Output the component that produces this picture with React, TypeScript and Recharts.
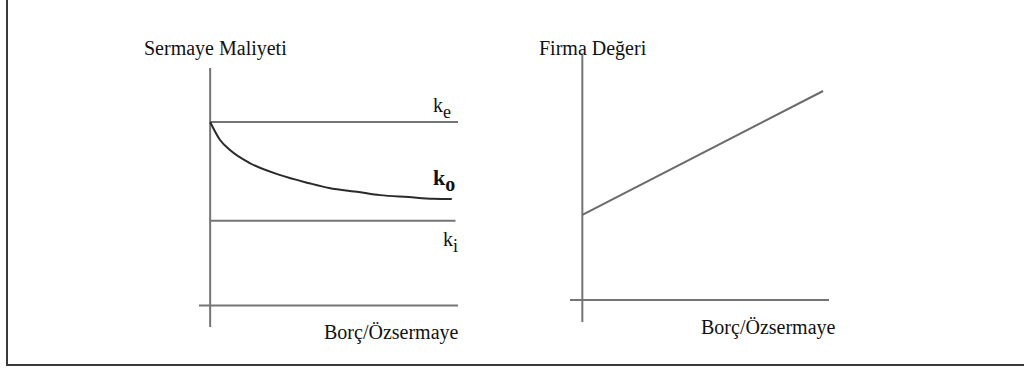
import { LineChart, Line, XAxis, YAxis, ReferenceLine } from 'recharts';

// Sermaye maliyeti panel (debt/equity on x)
const debtRatio = [0, 0.4, 0.8, 1.6, 2.8, 4.0, 4.8, 6.0, 6.85, 8.0, 9.0, 9.75];
const costOverall = [7.73, 6.97, 6.55, 6.0, 5.5, 5.15, 4.95, 4.78, 4.65, 4.57, 4.5, 4.49]; // k_o
const equityX = [0, 10];
const costEquity = [7.73, 7.73]; // k_e
const debtX = [0, 9.9];
const costDebt = [3.57, 3.57]; // k_i

// Firma değeri panel
const valueX = [0, 9.76];
const firmValue = [3.47, 8.53];

const axisLabels = ['Sermaye Maliyeti', 'Firma Değeri', 'Borç/Özsermaye'];

const SERIF = '"Liberation Serif", "Times New Roman", serif';
const AXIS = '#747474';

const costRows = (() => {
  const xs = Array.from(new Set([...debtRatio, ...equityX, ...debtX])).sort((a, b) => a - b);
  return xs.map((x) => {
    const row: Record<string, number | null> = { x };
    const io = debtRatio.indexOf(x);
    row.ko = io >= 0 ? costOverall[io] : null;
    const ie = equityX.indexOf(x);
    row.ke = ie >= 0 ? costEquity[ie] : null;
    const ii = debtX.indexOf(x);
    row.ki = ii >= 0 ? costDebt[ii] : null;
    return row;
  });
})();

const valueRows = valueX.map((x, i) => ({ x, v: firmValue[i] }));

const txt = (left: number, top: number, size = 20): React.CSSProperties => ({
  position: 'absolute',
  left,
  top,
  fontFamily: SERIF,
  fontSize: size,
  lineHeight: `${size}px`,
  color: '#111',
  whiteSpace: 'nowrap',
});

function KLabel({ left, top, sub, size = 20, bold }: { left: number; top: number; sub: string; size?: number; bold?: boolean }) {
  return (
    <div style={{ ...txt(left, top, size), fontWeight: bold ? 'bold' : 'normal' }}>
      k<span style={{ fontSize: size - 2, position: 'relative', top: 6 }}>{sub}</span>
    </div>
  );
}

const M = { top: 10, right: 10, bottom: 10, left: 10 };

export default function App() {
  return (
    <div style={{ position: 'absolute', left: 0, top: 0, width: 1024, height: 377, background: '#fff', overflow: 'hidden' }}>
      <div
        style={{
          position: 'absolute',
          left: 6,
          top: -10,
          width: 1100,
          height: 376,
          boxSizing: 'border-box',
          border: '2px solid #3a3a3a',
        }}
      />

      <div style={{ position: 'absolute', left: 189, top: 58 }}>
        <LineChart width={279} height={279} data={costRows} margin={M}>
          <XAxis type="number" dataKey="x" domain={[-0.45, 10]} allowDataOverflow hide />
          <YAxis type="number" domain={[-0.9, 10]} allowDataOverflow hide />
          <ReferenceLine y={0} stroke={AXIS} strokeWidth={2} />
          <ReferenceLine x={0} stroke={AXIS} strokeWidth={2} />
          <Line dataKey="ke" stroke={AXIS} strokeWidth={2} dot={false} connectNulls isAnimationActive={false} />
          <Line dataKey="ki" stroke={AXIS} strokeWidth={2} dot={false} connectNulls isAnimationActive={false} />
          <Line type="monotone" dataKey="ko" stroke="#2a2a2a" strokeWidth={2} dot={false} connectNulls isAnimationActive={false} />
        </LineChart>
      </div>

      <div style={{ position: 'absolute', left: 560, top: 45 }}>
        <LineChart width={279} height={287} data={valueRows} margin={M}>
          <XAxis type="number" dataKey="x" domain={[-0.5, 10]} allowDataOverflow hide />
          <YAxis type="number" domain={[-0.9, 10]} allowDataOverflow hide />
          <ReferenceLine y={0} stroke={AXIS} strokeWidth={2} />
          <ReferenceLine x={0} stroke={AXIS} strokeWidth={2} />
          <Line dataKey="v" stroke="#6a6a6a" strokeWidth={2} dot={false} isAnimationActive={false} />
        </LineChart>
      </div>

      <div style={txt(144, 38)}>{axisLabels[0]}</div>
      <div style={txt(539, 38)}>{axisLabels[1]}</div>
      <div style={txt(324, 322)}>{axisLabels[2]}</div>
      <div style={txt(701, 317)}>{axisLabels[2]}</div>

      <KLabel left={433} top={95} sub="e" />
      <KLabel left={433} top={167} sub="o" size={22} bold />
      <KLabel left={443} top={229} sub="i" />
    </div>
  );
}
